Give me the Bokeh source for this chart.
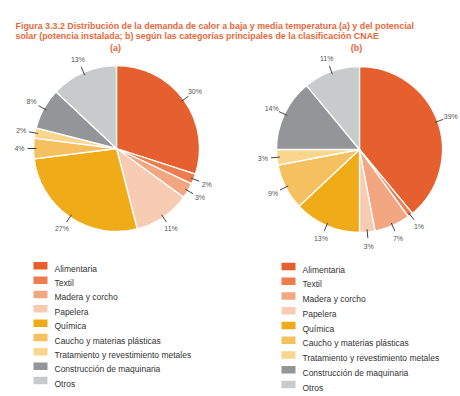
import numpy as np
from bokeh.plotting import figure
from bokeh.models import Range1d, ColumnDataSource
from bokeh.core.properties import value
from bokeh.embed import file_html
from bokeh.resources import INLINE

categories = ["Alimentaria", "Textil", "Madera y corcho", "Papelera", "Química",
              "Caucho y materias plásticas", "Tratamiento y revestimiento metales",
              "Construcción de maquinaria", "Otros"]
colors = ["#E5602E", "#ED7D4F", "#F3A682", "#F8CBB3", "#EFAB18",
          "#F5C160", "#F9D58E", "#939598", "#C9CACC"]
share_a = [30, 2, 3, 11, 27, 4, 2, 8, 13]
share_b = [39, 1, 7, 3, 13, 9, 3, 14, 11]
title_lines = ["Figura 3.3.2 Distribución de la demanda de calor a baja y media temperatura (a) y del potencial",
               "solar (potencia instalada; b) según las categorías principales de la clasificación CNAE"]
panel_labels = ["(a)", "(b)"]

W, H = 460, 396
p = figure(width=W, height=H, x_range=Range1d(0, W), y_range=Range1d(0, H),
           output_backend="svg", toolbar_location=None,
           x_axis_location=None, y_axis_location=None, min_border=0)
p.outline_line_color = None
p.grid.visible = False
p.background_fill_color = "white"


def X(v):
    return np.asarray(v, float)


def Y(v):
    return H - np.asarray(v, float)


ORANGE = "#E8683A"

# title
for i, line in enumerate(title_lines):
    p.text(x=[X(15)], y=[Y(25 + 10.5 * i)], text=[line], text_font=value("Liberation Sans"),
           text_font_style="bold", text_font_size="8.9px", text_color=ORANGE,
           text_baseline="alphabetic", text_align="left")


def draw_pie(shares, cx, cy, r, label_x, leg_x, leg_y0, leg_dy, plabel):
    vals = np.array(shares, float)
    frac = vals / vals.sum()
    cum = np.concatenate([[0], np.cumsum(frac)])
    start = np.pi / 2 - 2 * np.pi * cum[1:]
    end = np.pi / 2 - 2 * np.pi * cum[:-1]
    src = ColumnDataSource(dict(start=start, end=end, color=colors))
    ccx, ccy = float(X(cx)), float(Y(cy))
    p.wedge(x=ccx, y=ccy, radius=r, start_angle="start", end_angle="end",
            fill_color="color", line_color="white", line_width=1.3, source=src)
    mid = np.pi / 2 - 2 * np.pi * (cum[:-1] + cum[1:]) / 2
    p.segment(x0=ccx + 80 * np.cos(mid), y0=ccy + 80 * np.sin(mid),
              x1=ccx + 89 * np.cos(mid), y1=ccy + 89 * np.sin(mid),
              line_color="#444444", line_width=1)
    p.text(x=ccx + 97 * np.cos(mid), y=ccy + 97 * np.sin(mid),
           text=[f"{v}%" for v in shares], text_font=value("Liberation Sans"),
           text_font_size="7px", text_color="#555555",
           text_align="center", text_baseline="middle")
    # panel label
    p.text(x=[float(X(label_x))], y=[float(Y(47))], text=[plabel],
           text_font=value("Liberation Sans"), text_font_style="bold",
           text_font_size="9px", text_color=ORANGE,
           text_align="center", text_baseline="middle")
    # legend
    ly = np.array([leg_y0 + leg_dy * i for i in range(len(categories))])
    p.rect(x=float(X(leg_x + 7)), y=Y(ly), width=14, height=7.5,
           fill_color=colors, line_color=None)
    p.text(x=float(X(leg_x + 21)), y=Y(ly + 3), text=categories,
           text_font=value("Liberation Sans"), text_font_size="8.5px",
           text_color="#333333", text_align="left", text_baseline="alphabetic")


draw_pie(share_a, 116, 148, 83, 115, 33, 265.3, 14.34, panel_labels[0])
draw_pie(share_b, 359, 149, 83, 356, 281, 266, 14.75, panel_labels[1])

open("out.html", "w").write(file_html(p, INLINE))
